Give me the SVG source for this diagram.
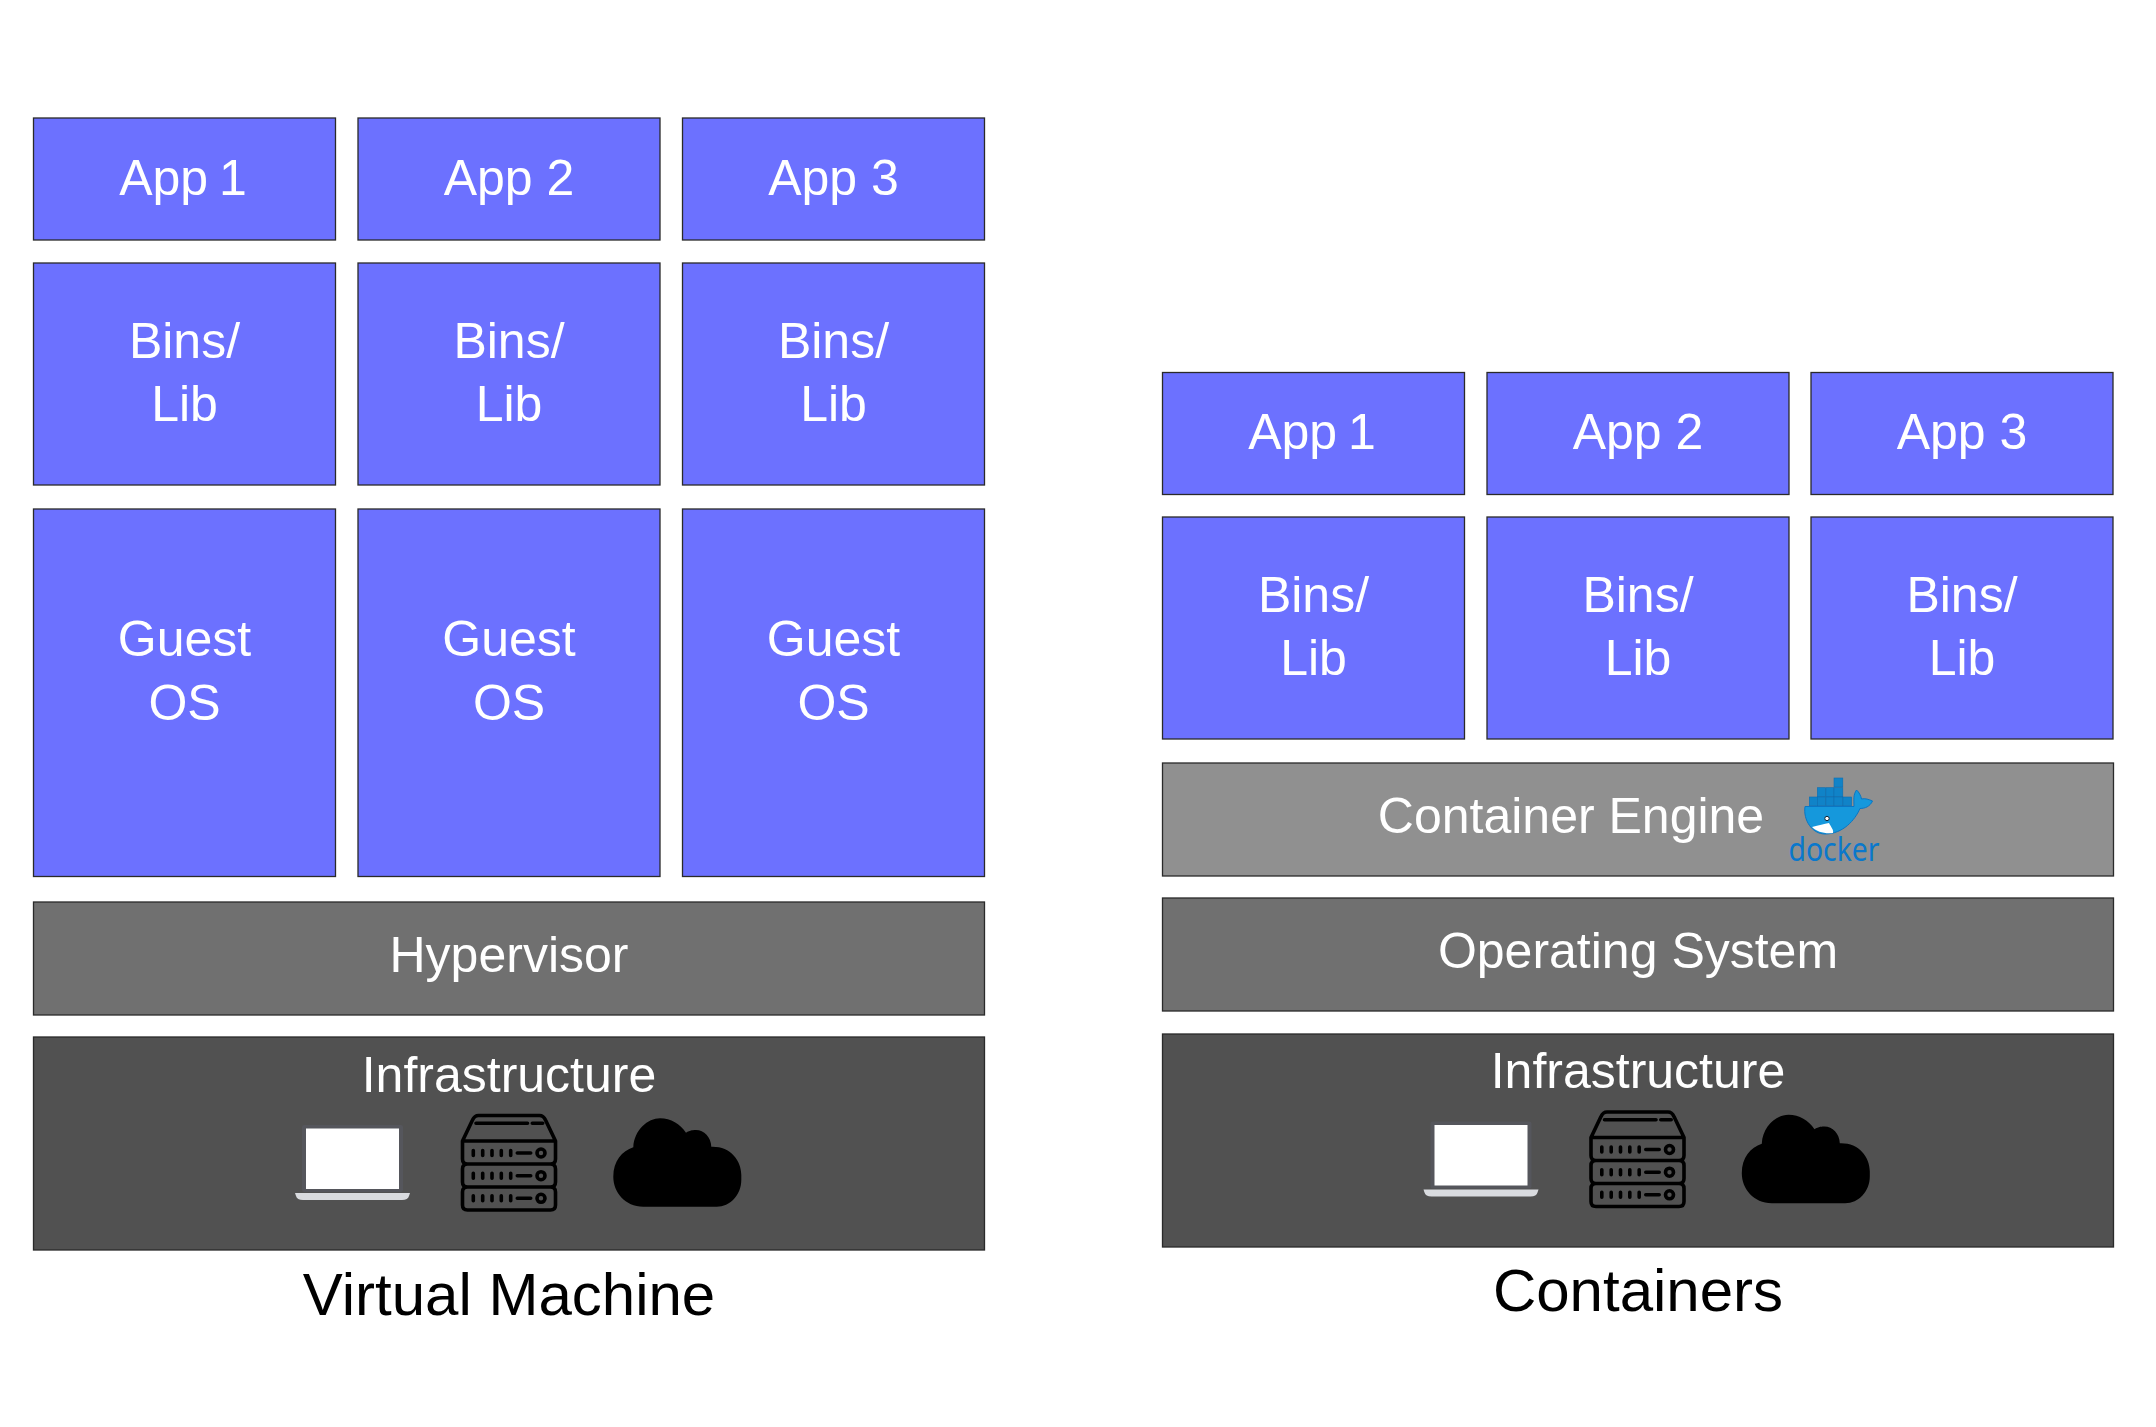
<svg xmlns="http://www.w3.org/2000/svg" width="2156" height="1427" viewBox="0 0 2156 1427">
<style>
text{font-family:"Liberation Sans",Arial,sans-serif;text-anchor:middle}
.l{fill:#fff;font-size:50px}
.t{fill:#000;font-size:60px}
rect.b{stroke:#2a2a2a;stroke-width:1.3}
.v{fill:#6c71ff}.h{fill:#707070}.e{fill:#909090}.i{fill:#515151}
.s{fill:none;stroke:#000;stroke-width:3.600;stroke-linecap:round;stroke-linejoin:round}
</style>
<defs>
<g id="srow"><path class="s" d="M473.300 1150.500v5M482.700 1150.500v5M492 1150.500v5M501.300 1150.500v5M510.700 1150.500v5M517.300 1153h13.400"/><circle class="s" cx="541" cy="1153" r="4"/></g>
<g id="icons">
<rect x="302" y="1125" width="101" height="67" rx="2" fill="#55565c"/>
<rect x="306" y="1128.500" width="93" height="60.500" fill="#fff"/>
<path d="M295 1193h115l-1 3q-1 4-7 4H303q-6 0-7-4z" fill="#d9dbdf"/>
<path class="s" d="M462.500 1141l10-21q2-4.500 6-4.500h61q4 0 6 4.500l10 21v18q0 5-5 5H467.500q-5 0-5-5zM462.500 1141h93M467.500 1164q-5 0-5 5v13q0 5 5 5h83q5 0 5-5v-13q0-5-5-5M467.500 1187q-5 0-5 5v13q0 5 5 5h83q5 0 5-5v-13q0-5-5-5M476 1123.300h51.500M532.300 1123.300h10.400"/>
<use href="#srow"/><use href="#srow" y="22.700"/><use href="#srow" y="45.300"/>
<path d="M613.300 1176.700C613.300 1161 622 1151 633.300 1147.300C634 1130 648 1118.300 660 1118.300C671 1118.300 680 1124 686 1132.700C690 1130 694 1130 696 1130C704 1130 711 1137 711.300 1146.700C730 1146 741.300 1160 741.300 1175V1180C741.300 1195 730 1206.700 716.700 1206.700H643.300C625 1206.700 613.300 1192 613.300 1176.700z" fill="#000"/>
</g>
</defs>
<g id="vm-app-1"><rect class="b v" x="33.500" y="118" width="302" height="122"/><text class="l" x="183" y="195">App <tspan dx="-3">1</tspan></text></g>
<g id="vm-app-2"><rect class="b v" x="358" y="118" width="302" height="122"/><text class="l" x="509" y="195">App 2</text></g>
<g id="vm-app-3"><rect class="b v" x="682.500" y="118" width="302" height="122"/><text class="l" x="833.500" y="195">App 3</text></g>
<g id="vm-bins-1"><rect class="b v" x="33.500" y="263" width="302" height="222"/><text class="l" x="184.500" y="358">Bins/</text><text class="l" x="184.500" y="420.500">Lib</text></g>
<g id="vm-bins-2"><rect class="b v" x="358" y="263" width="302" height="222"/><text class="l" x="509" y="358">Bins/</text><text class="l" x="509" y="420.500">Lib</text></g>
<g id="vm-bins-3"><rect class="b v" x="682.500" y="263" width="302" height="222"/><text class="l" x="833.500" y="358">Bins/</text><text class="l" x="833.500" y="420.500">Lib</text></g>
<g id="vm-guest-1"><rect class="b v" x="33.500" y="509" width="302" height="367.500"/><text class="l" x="184.500" y="656">Guest</text><text class="l" x="184.500" y="720">OS</text></g>
<g id="vm-guest-2"><rect class="b v" x="358" y="509" width="302" height="367.500"/><text class="l" x="509" y="656">Guest</text><text class="l" x="509" y="720">OS</text></g>
<g id="vm-guest-3"><rect class="b v" x="682.500" y="509" width="302" height="367.500"/><text class="l" x="833.500" y="656">Guest</text><text class="l" x="833.500" y="720">OS</text></g>
<g id="vm-hypervisor"><rect class="b h" x="33.500" y="902" width="951" height="113"/><text class="l" x="509" y="972">Hypervisor</text></g>
<g id="vm-infrastructure"><rect class="b i" x="33.500" y="1037" width="951" height="213"/><text class="l" x="509" y="1092">Infrastructure</text><use href="#icons"/></g>
<g id="vm-title"><text class="t" x="509" y="1315">Virtual Machine</text></g>
<g id="c-app-1"><rect class="b v" x="1162.500" y="372.500" width="302" height="122"/><text class="l" x="1312" y="449">App <tspan dx="-3">1</tspan></text></g>
<g id="c-app-2"><rect class="b v" x="1487" y="372.500" width="302" height="122"/><text class="l" x="1638" y="449">App 2</text></g>
<g id="c-app-3"><rect class="b v" x="1811" y="372.500" width="302" height="122"/><text class="l" x="1962" y="449">App 3</text></g>
<g id="c-bins-1"><rect class="b v" x="1162.500" y="517" width="302" height="222"/><text class="l" x="1313.500" y="612">Bins/</text><text class="l" x="1313.500" y="675">Lib</text></g>
<g id="c-bins-2"><rect class="b v" x="1487" y="517" width="302" height="222"/><text class="l" x="1638" y="612">Bins/</text><text class="l" x="1638" y="675">Lib</text></g>
<g id="c-bins-3"><rect class="b v" x="1811" y="517" width="302" height="222"/><text class="l" x="1962" y="612">Bins/</text><text class="l" x="1962" y="675">Lib</text></g>
<g id="c-engine"><rect class="b e" x="1162.500" y="763" width="951" height="113"/><text class="l" x="1571" y="833">Container Engine</text>
<g id="docker-logo">
<g fill="#1083c8" stroke="#0a6fb5" stroke-width=".6"><rect x="1834" y="778" width="8.800" height="9"/><rect x="1817.300" y="787.700" width="8.300" height="9"/><rect x="1825.900" y="787.700" width="8" height="9"/><rect x="1834" y="787.700" width="8.800" height="9"/><rect x="1809.300" y="797" width="8" height="8.800"/><rect x="1817.300" y="797" width="8.300" height="8.800"/><rect x="1825.900" y="797" width="8" height="8.800"/><rect x="1834" y="797" width="8.800" height="8.800"/><rect x="1843" y="797" width="8.600" height="8.800"/></g>
<path d="M1805 806.500H1854C1854 800 1853 795 1856.500 790C1859 792 1861 796 1861.500 799C1865 798 1869 799.500 1872.500 801C1870 806.500 1865 808.500 1860 808.500C1855 820 1843 834 1825 834C1812 834 1803 820 1805 806.500z" fill="#1598dc" stroke="#0a76c4" stroke-width="1"/>
<path d="M1812 827C1819 825 1824 824 1829 823C1831 827 1834 830 1833 833C1825 834 1817 832 1812 827z" fill="#fff"/>
<circle cx="1827" cy="818.500" r="2.200" fill="#fff" stroke="#123" stroke-width="1"/>
<text x="1834" y="861" font-size="33" style="font-family:'Noto Sans',sans-serif;fill:#0a78cc" textLength="91" lengthAdjust="spacingAndGlyphs">docker</text>
</g></g>
<g id="c-os"><rect class="b h" x="1162.500" y="898" width="951" height="113"/><text class="l" x="1638" y="968">Operating System</text></g>
<g id="c-infrastructure"><rect class="b i" x="1162.500" y="1034" width="951" height="213"/><text class="l" x="1638" y="1088">Infrastructure</text><use href="#icons" x="1128.500" y="-3.500"/></g>
<g id="c-title"><text class="t" x="1638" y="1311">Containers</text></g>
<g id="connectors"/>
</svg>
